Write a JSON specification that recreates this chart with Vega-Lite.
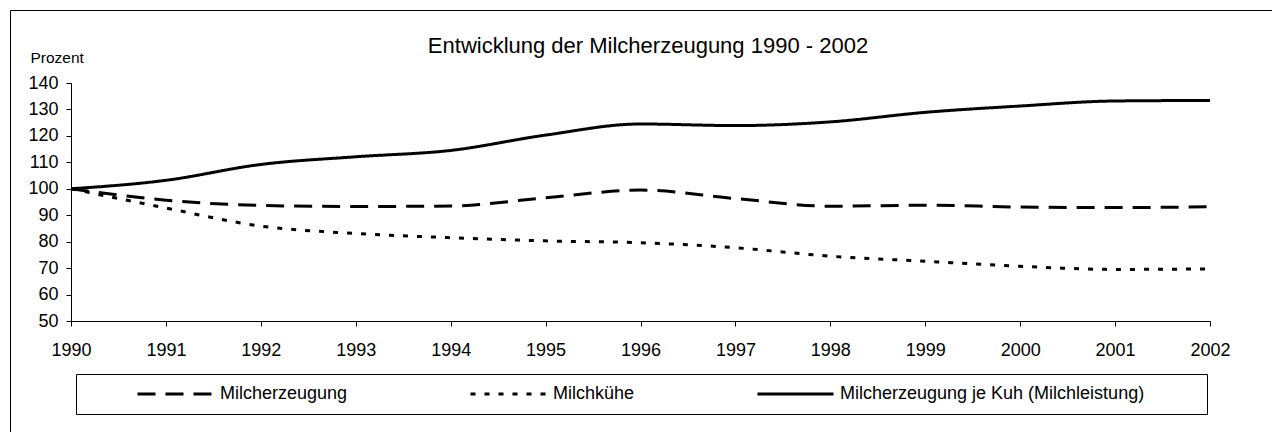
{
  "$schema": "https://vega.github.io/schema/vega-lite/v6.json",
  "width": 1262,
  "height": 422,
  "autosize": {"type": "none"},
  "padding": {"left": 10, "top": 10, "right": 0, "bottom": 0},
  "background": "white",
  "config": {
    "font": "Liberation Sans",
    "view": {"stroke": "black", "strokeWidth": 1},
    "axis": {"grid": false, "domainColor": "black", "tickColor": "black", "labelColor": "black", "titleColor": "black", "labelFontSize": 18, "tickSize": 5, "domainWidth": 1, "tickWidth": 1}
  },
  "title": {
    "text": "Entwicklung der Milcherzeugung 1990 - 2002",
    "fontSize": 22,
    "fontWeight": "normal",
    "color": "black",
    "anchor": "middle",
    "frame": "group",
    "dx": 7,
    "offset": -48
  },
  "data": {
    "values": [
      {"year": 1990, "series": "Milcherzeugung", "value": 100},
      {"year": 1991, "series": "Milcherzeugung", "value": 95.7},
      {"year": 1992, "series": "Milcherzeugung", "value": 93.7},
      {"year": 1993, "series": "Milcherzeugung", "value": 93.3},
      {"year": 1994, "series": "Milcherzeugung", "value": 93.5},
      {"year": 1995, "series": "Milcherzeugung", "value": 96.6},
      {"year": 1996, "series": "Milcherzeugung", "value": 99.5},
      {"year": 1997, "series": "Milcherzeugung", "value": 96.3},
      {"year": 1998, "series": "Milcherzeugung", "value": 93.4},
      {"year": 1999, "series": "Milcherzeugung", "value": 93.8},
      {"year": 2000, "series": "Milcherzeugung", "value": 93.1},
      {"year": 2001, "series": "Milcherzeugung", "value": 92.9},
      {"year": 2002, "series": "Milcherzeugung", "value": 93.2},
      {"year": 1990, "series": "Milchkühe", "value": 100},
      {"year": 1991, "series": "Milchkühe", "value": 92.7},
      {"year": 1992, "series": "Milchkühe", "value": 85.9},
      {"year": 1993, "series": "Milchkühe", "value": 83.1},
      {"year": 1994, "series": "Milchkühe", "value": 81.5},
      {"year": 1995, "series": "Milchkühe", "value": 80.3},
      {"year": 1996, "series": "Milchkühe", "value": 79.6},
      {"year": 1997, "series": "Milchkühe", "value": 77.7},
      {"year": 1998, "series": "Milchkühe", "value": 74.5},
      {"year": 1999, "series": "Milchkühe", "value": 72.6},
      {"year": 2000, "series": "Milchkühe", "value": 70.7},
      {"year": 2001, "series": "Milchkühe", "value": 69.5},
      {"year": 2002, "series": "Milchkühe", "value": 69.7},
      {"year": 1990, "series": "Milcherzeugung je Kuh (Milchleistung)", "value": 100},
      {"year": 1991, "series": "Milcherzeugung je Kuh (Milchleistung)", "value": 103.2},
      {"year": 1992, "series": "Milcherzeugung je Kuh (Milchleistung)", "value": 109.2},
      {"year": 1993, "series": "Milcherzeugung je Kuh (Milchleistung)", "value": 112.1},
      {"year": 1994, "series": "Milcherzeugung je Kuh (Milchleistung)", "value": 114.5},
      {"year": 1995, "series": "Milcherzeugung je Kuh (Milchleistung)", "value": 120.3},
      {"year": 1996, "series": "Milcherzeugung je Kuh (Milchleistung)", "value": 124.5},
      {"year": 1997, "series": "Milcherzeugung je Kuh (Milchleistung)", "value": 123.9},
      {"year": 1998, "series": "Milcherzeugung je Kuh (Milchleistung)", "value": 125.3},
      {"year": 1999, "series": "Milcherzeugung je Kuh (Milchleistung)", "value": 128.9},
      {"year": 2000, "series": "Milcherzeugung je Kuh (Milchleistung)", "value": 131.3},
      {"year": 2001, "series": "Milcherzeugung je Kuh (Milchleistung)", "value": 133.2},
      {"year": 2002, "series": "Milcherzeugung je Kuh (Milchleistung)", "value": 133.4}
    ]
  },
  "mark": {"type": "line", "color": "black", "interpolate": "monotone"},
  "encoding": {
    "x": {
      "field": "year",
      "type": "quantitative",
      "scale": {"domain": [1990, 2002], "range": [61, 1200], "nice": false, "zero": false},
      "axis": {
        "orient": "bottom",
        "offset": -111,
        "title": null,
        "values": [1990, 1991, 1992, 1993, 1994, 1995, 1996, 1997, 1998, 1999, 2000, 2001, 2002],
        "format": "d",
        "labelPadding": 15,
        "labelFlush": false,
        "labelOverlap": false
      }
    },
    "y": {
      "field": "value",
      "type": "quantitative",
      "scale": {"domain": [50, 140], "range": [311, 73], "nice": false, "zero": false},
      "axis": {
        "orient": "left",
        "offset": -61,
        "values": [50, 60, 70, 80, 90, 100, 110, 120, 130, 140],
        "labelPadding": 8,
        "labelFlush": false,
        "labelOverlap": false,
        "title": "Prozent",
        "titleAngle": 0,
        "titleX": -41,
        "titleY": 52,
        "titleAlign": "left",
        "titleBaseline": "alphabetic",
        "titleFontSize": 15.5,
        "titleFontWeight": "normal"
      }
    },
    "strokeDash": {
      "field": "series",
      "type": "nominal",
      "scale": {
        "domain": ["Milcherzeugung", "Milchkühe", "Milcherzeugung je Kuh (Milchleistung)"],
        "range": [[18, 10], [5, 9], [1, 0]]
      },
      "legend": {
        "title": null,
        "orient": "none",
        "direction": "horizontal",
        "legendX": 66,
        "legendY": 364,
        "strokeColor": "black",
        "padding": 10,
        "symbolType": "stroke",
        "symbolSize": 5776,
        "symbolStrokeWidth": 3,
        "symbolStrokeColor": "black",
        "symbolOffset": 50,
        "labelOffset": 5,
        "columnPadding": 71,
        "clipHeight": 20,
        "labelFontSize": 18,
        "labelColor": "black",
        "labelLimit": 0,
        "encode": {
          "entries": {
            "update": {
              "width": {"signal": "datum.index == 2 ? 491 : 0"}
            }
          }
        }
      }
    },
    "strokeWidth": {
      "field": "series",
      "type": "nominal",
      "scale": {
        "domain": ["Milcherzeugung", "Milchkühe", "Milcherzeugung je Kuh (Milchleistung)"],
        "range": [3, 3, 2.6]
      },
      "legend": null
    }
  }
}
